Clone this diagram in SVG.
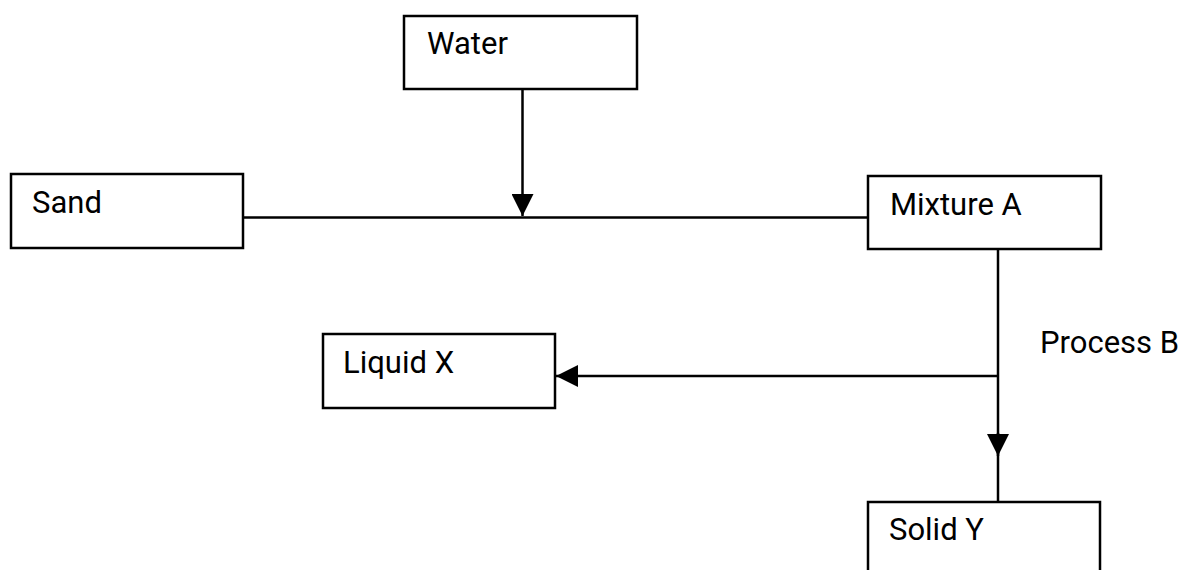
<svg xmlns="http://www.w3.org/2000/svg" width="1182" height="570" viewBox="0 0 1182 570">
<style>
.box{fill:#fff;stroke:#000;stroke-width:2.5}
.lbl{font-family:Roboto,"Liberation Sans",sans-serif;font-size:31px;fill:#000}
.ln{stroke:#000;stroke-width:2.5;fill:none}
</style>
<defs>
<marker id="ah" markerUnits="userSpaceOnUse" markerWidth="22" markerHeight="22" viewBox="0 0 22 22" refX="22" refY="11" orient="auto">
<polygon points="0,0 22,11 0,22" fill="#000"/>
</marker>
</defs>
<rect width="1182" height="570" fill="#fff"/>
<g id="connectors">
<line class="ln" x1="243" y1="217.5" x2="868" y2="217.5"/>
<line class="ln" x1="522.5" y1="89" x2="522.5" y2="216" marker-end="url(#ah)"/>
<line class="ln" x1="998" y1="249" x2="998" y2="502"/>
<line class="ln" x1="998" y1="433" x2="998" y2="456" marker-end="url(#ah)"/>
<line class="ln" x1="998" y1="376" x2="556" y2="376" marker-end="url(#ah)"/>
<text class="lbl" x="1040" y="353">Process B</text>
</g>
<g id="water"><rect class="box" x="404" y="16" width="233" height="73"/><text class="lbl" x="427" y="54">Water</text></g>
<g id="sand"><rect class="box" x="11" y="174" width="232" height="74"/><text class="lbl" x="32" y="213">Sand</text></g>
<g id="mixtureA"><rect class="box" x="868" y="176" width="233" height="73"/><text class="lbl" x="890" y="215">Mixture A</text></g>
<g id="liquidX"><rect class="box" x="323" y="334" width="232" height="74"/><text class="lbl" x="343" y="373">Liquid X</text></g>
<g id="solidY"><rect class="box" x="868" y="502" width="232" height="100"/><text class="lbl" x="889" y="540">Solid Y</text></g>
</svg>
